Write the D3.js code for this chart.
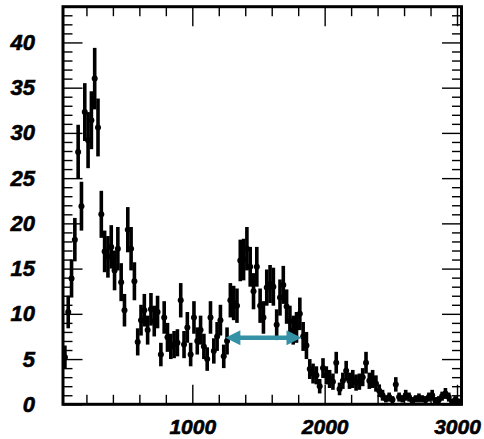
<!DOCTYPE html>
<html>
<head>
<meta charset="utf-8">
<script src="https://cdn.jsdelivr.net/npm/d3@7/dist/d3.min.js"></script>
<style>
  html, body { margin: 0; padding: 0; background: #fff; }
  svg { display: block; }
  .lbl text { font-family: "Liberation Sans", Arial, Helvetica, sans-serif; font-weight: bold; font-style: italic; font-size: 22px; fill: #000; stroke: #000; stroke-width: 0.6px; }
  .lbl.xl text { font-size: 21px; }
</style>
</head>
<body>
<svg id="chart" width="484" height="439"></svg>
<script>
// Histogram definition: 120 bins of width 25 starting at 25
const binStart = 25;
const binWidth = 25;

// Bin contents
const counts = [
  5.2, 10.2, 13.9, 18.2, 27.9, 21.9, 32.3, 29.2, 31.4, 36.0,
  30.6, 21.0, 16.9, 16.3, 17.4, 14.8, 17.2, 13.5, 10.4, 19.3,
  17.2, 13.6, 6.9, 9.3, 10.4, 8.2, 10.5, 9.2, 10.2, 5.5,
  9.6, 7.4, 6.4, 6.6, 6.8, 11.5, 6.6, 8.5, 5.5, 9.6,
  7.0, 8.2, 6.4, 5.0, 9.6, 5.9, 7.5, 9.3, 5.3, 7.0,
  11.5, 11.2, 10.9, 15.9, 16.0, 17.2, 15.2, 12.5, 15.2, 10.9,
  9.6, 12.9, 13.3, 13.0, 8.8, 11.8, 13.2, 10.8, 9.2, 8.2,
  8.5, 10.0, 7.5, 6.5, 3.9, 3.4, 3.2, 2.0, 4.0, 3.2,
  2.8, 2.5, 4.6, 1.7, 2.6, 3.7, 2.6, 2.8, 2.4, 2.5,
  3.0, 4.6, 2.6, 2.8, 2.3, 1.5, 1.0, 0.6, 0.8, 0.5,
  2.2, 0.8, 0.6, 1.0, 0.8, 0.4, 0.6, 0.7, 0.6, 0.5,
  0.8, 1.0, 0.4, 0.5, 0.9, 1.2, 0.8, 0.3, 0.5, 0.3
];

// Bin errors
const errors = [
  1.3, 1.8, 2.1, 2.4, 3.0, 2.7, 3.2, 3.1, 3.2, 3.4,
  3.2, 2.6, 2.3, 2.3, 2.4, 2.2, 2.4, 2.1, 1.8, 2.5,
  2.4, 2.1, 1.5, 1.7, 1.8, 1.6, 1.8, 1.7, 1.8, 1.3,
  1.8, 1.6, 1.4, 1.5, 1.5, 1.9, 1.5, 1.7, 1.3, 1.8,
  1.5, 1.6, 1.4, 1.3, 1.8, 1.4, 1.6, 1.7, 1.3, 1.5,
  1.9, 1.9, 1.9, 2.3, 2.3, 2.4, 2.2, 2.0, 2.2, 1.9,
  1.8, 2.0, 2.1, 2.1, 1.7, 2.0, 2.1, 1.9, 1.7, 1.6,
  1.7, 1.8, 1.6, 1.5, 1.1, 1.1, 1.0, 0.8, 1.1, 1.0,
  1.0, 0.9, 1.2, 0.7, 0.9, 1.1, 0.9, 1.0, 0.9, 0.9,
  1.0, 1.2, 0.9, 1.0, 0.9, 0.7, 0.6, 0.4, 0.5, 0.4,
  0.8, 0.5, 0.4, 0.6, 0.5, 0.4, 0.4, 0.5, 0.4, 0.4,
  0.5, 0.6, 0.4, 0.4, 0.5, 0.6, 0.5, 0.3, 0.4, 0.3
];

// Axis ticks
const xMajorTicks = [1000, 2000, 3000];
const xMinorTicks = [200, 400, 600, 800, 1200, 1400, 1600, 1800, 2200, 2400, 2600, 2800];
const yMajorTicks = [0, 5, 10, 15, 20, 25, 30, 35, 40];
const yMinorTicks = [1, 2, 3, 4, 6, 7, 8, 9, 11, 12, 13, 14, 16, 17, 18, 19, 21, 22, 23, 24,
                     26, 27, 28, 29, 31, 32, 33, 34, 36, 37, 38, 39, 41, 42, 43];

// Marked interval (double arrow)
const arrowRange = [1250, 1825];
const arrowLevel = 7.35;

const xRange = [23, 3034];
const yRange = [0, 43.95];

const frame = { left: 63, right: 461.5, top: 6.7, bottom: 404.3 };

const svg = d3.select("#chart");
svg.append("rect").attr("width", 484).attr("height", 439).attr("fill", "#fff");

const x = d3.scaleLinear().domain(xRange).range([frame.left, frame.right]);
const y = d3.scaleLinear().domain(yRange).range([frame.bottom, frame.top]);

const majorLen = 19.5, minorLen = 9.5;

function styleAxis(g) {
  g.select(".domain").remove();
  g.selectAll(".tick line").attr("stroke", "#000").attr("stroke-width", 1.4);
}

// Bottom axis with labels
svg.append("g").attr("class", "lbl xl")
  .attr("transform", `translate(0,${frame.bottom})`)
  .call(d3.axisBottom(x).tickValues(xMajorTicks).tickSize(-majorLen).tickPadding(15).tickFormat(d3.format("d")))
  .call(styleAxis);
svg.append("g")
  .attr("transform", `translate(0,${frame.bottom})`)
  .call(d3.axisBottom(x).tickValues(xMinorTicks).tickSize(-minorLen).tickFormat(""))
  .call(styleAxis);
// Top axis ticks
svg.append("g")
  .attr("transform", `translate(0,${frame.top})`)
  .call(d3.axisTop(x).tickValues(xMajorTicks).tickSize(-majorLen).tickFormat(""))
  .call(styleAxis);
svg.append("g")
  .attr("transform", `translate(0,${frame.top})`)
  .call(d3.axisTop(x).tickValues(xMinorTicks).tickSize(-minorLen).tickFormat(""))
  .call(styleAxis);
// Left axis with labels
svg.append("g").attr("class", "lbl")
  .attr("transform", `translate(${frame.left},0)`)
  .call(d3.axisLeft(y).tickValues(yMajorTicks).tickSize(-majorLen).tickPadding(28).tickFormat(d3.format("d")))
  .call(styleAxis);
svg.append("g")
  .attr("transform", `translate(${frame.left},0)`)
  .call(d3.axisLeft(y).tickValues(yMinorTicks).tickSize(-minorLen).tickFormat(""))
  .call(styleAxis);
// Right axis ticks
svg.append("g")
  .attr("transform", `translate(${frame.right},0)`)
  .call(d3.axisRight(y).tickValues(yMajorTicks).tickSize(-majorLen).tickFormat(""))
  .call(styleAxis);
svg.append("g")
  .attr("transform", `translate(${frame.right},0)`)
  .call(d3.axisRight(y).tickValues(yMinorTicks).tickSize(-minorLen).tickFormat(""))
  .call(styleAxis);

// Data points with error bars
const points = counts.map((v, i) => ({
  x: binStart + binWidth * (i + 0.5),
  v: v,
  e: errors[i]
}));

const pts = svg.append("g");
pts.selectAll("line.err").data(points).join("line")
  .attr("class", "err")
  .attr("x1", d => x(d.x)).attr("x2", d => x(d.x))
  .attr("y1", d => y(Math.max(0, d.v - d.e))).attr("y2", d => y(d.v + d.e))
  .attr("stroke", "#000").attr("stroke-width", 3.6);
pts.selectAll("circle").data(points).join("circle")
  .attr("cx", d => x(d.x)).attr("cy", d => y(d.v))
  .attr("r", 3).attr("fill", "#000");

// Double-headed arrow
const arrowColor = "#3592a6";
const ax1 = x(arrowRange[0]), ax2 = x(arrowRange[1]), ay = y(arrowLevel);
const headLen = 15, headHalf = 7.5;
const arrow = svg.append("g");
arrow.append("line")
  .attr("x1", ax1 + headLen - 2).attr("x2", ax2 - headLen + 2)
  .attr("y1", ay).attr("y2", ay)
  .attr("stroke", arrowColor).attr("stroke-width", 4.5);
arrow.append("path")
  .attr("d", `M${ax1},${ay}L${ax1 + headLen},${ay - headHalf}L${ax1 + headLen},${ay + headHalf}Z`)
  .attr("fill", arrowColor);
arrow.append("path")
  .attr("d", `M${ax2},${ay}L${ax2 - headLen},${ay - headHalf}L${ax2 - headLen},${ay + headHalf}Z`)
  .attr("fill", arrowColor);

// Frame
svg.append("rect")
  .attr("x", frame.left).attr("y", frame.top)
  .attr("width", frame.right - frame.left).attr("height", frame.bottom - frame.top)
  .attr("fill", "none").attr("stroke", "#000").attr("stroke-width", 3);
</script>
</body>
</html>
